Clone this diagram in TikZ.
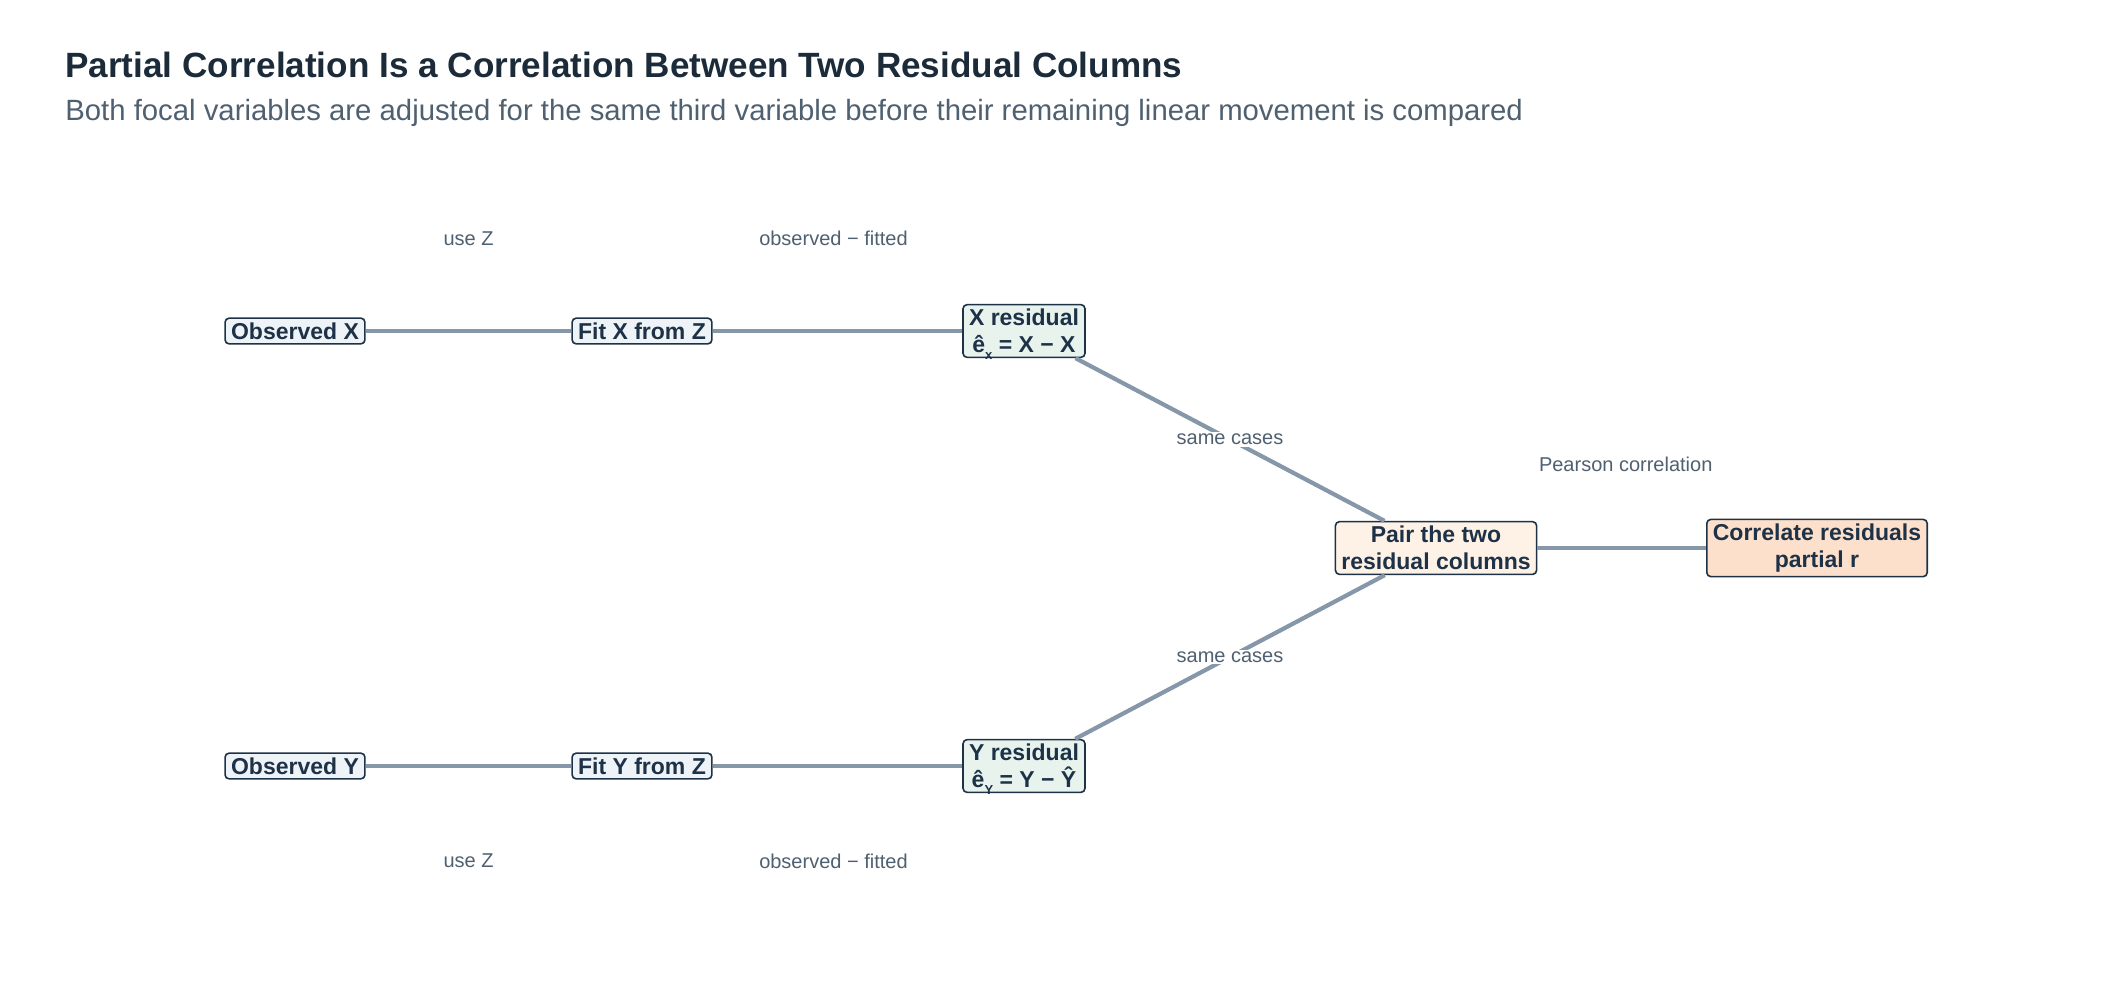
\documentclass[tikz,border=0pt]{standalone}
\usepackage{fontspec}
\setmainfont{Liberation Sans}
\usepackage{xcolor}
\usetikzlibrary{shapes,positioning}
\definecolor{ink}{HTML}{1E3247}
\definecolor{titleink}{HTML}{1C2B3A}
\definecolor{noteink}{HTML}{4F6070}
\definecolor{linkgray}{HTML}{8597A8}
\definecolor{obsfill}{HTML}{EEF3F8}
\definecolor{resfill}{HTML}{E8F3EE}
\definecolor{pairfill}{HTML}{FEF2E7}
\definecolor{corrfill}{HTML}{FDE0CB}
\tikzstyle{stage} = [rectangle, rounded corners=2pt, draw=ink, line width=0.8pt, text=ink, font=\bfseries\fontsize{11.5}{13.5}\selectfont, align=center, inner xsep=3pt, inner ysep=2.2pt]
\tikzstyle{link} = [draw=linkgray, line width=2.1pt]
\tikzstyle{elabel} = [text=noteink, font=\fontsize{10}{12}\selectfont, inner sep=1pt]
\newcommand{\subx}[1]{\raisebox{-3.5pt}[0pt][0pt]{\fontsize{6.5}{7}\selectfont #1}}

\begin{document}
\begin{tikzpicture}[x=0.5pt, y=-0.5pt]
    \useasboundingbox[fill=white] (0,0) rectangle (2112,998);

    % Title
    \node[anchor=west, inner sep=0pt, text=titleink, font=\bfseries\fontsize{17.55}{21}\selectfont] (title) at (65,65) {Partial Correlation Is a Correlation Between Two Residual Columns};
    \node[anchor=west, inner sep=0pt, text=noteink, font=\fontsize{14.65}{17}\selectfont] (subtitle) at (65,113) {Both focal variables are adjusted for the same third variable before their remaining linear movement is compared};

    % X branch
    \node[stage, fill=obsfill] (obsX) at (295,331) {Observed X};
    \node[stage, fill=obsfill] (fitX) at (642,331) {Fit X from Z};
    \node[stage, fill=resfill] (resX) at (1024,331) {X residual\\ê\subx{x} = X − X};

    % Y branch
    \node[stage, fill=obsfill] (obsY) at (295,766) {Observed Y};
    \node[stage, fill=obsfill] (fitY) at (642,766) {Fit Y from Z};
    \node[stage, fill=resfill] (resY) at (1024,766) {Y residual\\ê\subx{Y} = Y − Ŷ};

    % Merge
    \node[stage, fill=pairfill] (pair) at (1436,548) {Pair the two\\residual columns};
    \node[stage, fill=corrfill] (corr) at (1817,548) {Correlate residuals\\partial r};

    % Links
    \draw[link] (obsX) -- node[elabel, above=40.5pt] (useZx) {use Z} (fitX);
    \draw[link] (fitX) -- node[elabel, above=40.5pt, xshift=-2pt] (obsfitX) {observed − fitted} (resX);
    \draw[link] (obsY) -- node[elabel, below=42pt] (useZy) {use Z} (fitY);
    \draw[link] (fitY) -- node[elabel, below=42pt, xshift=-2pt] (obsfitY) {observed − fitted} (resY);
    \draw[link] (resX) -- node[elabel, fill=white] (caseX) {same cases} (pair);
    \draw[link] (resY) -- node[elabel, fill=white] (caseY) {same cases} (pair);
    \draw[link] (pair) -- node[elabel, above=36pt, xshift=2pt] (pearson) {Pearson correlation} (corr);
\end{tikzpicture}
\end{document}
